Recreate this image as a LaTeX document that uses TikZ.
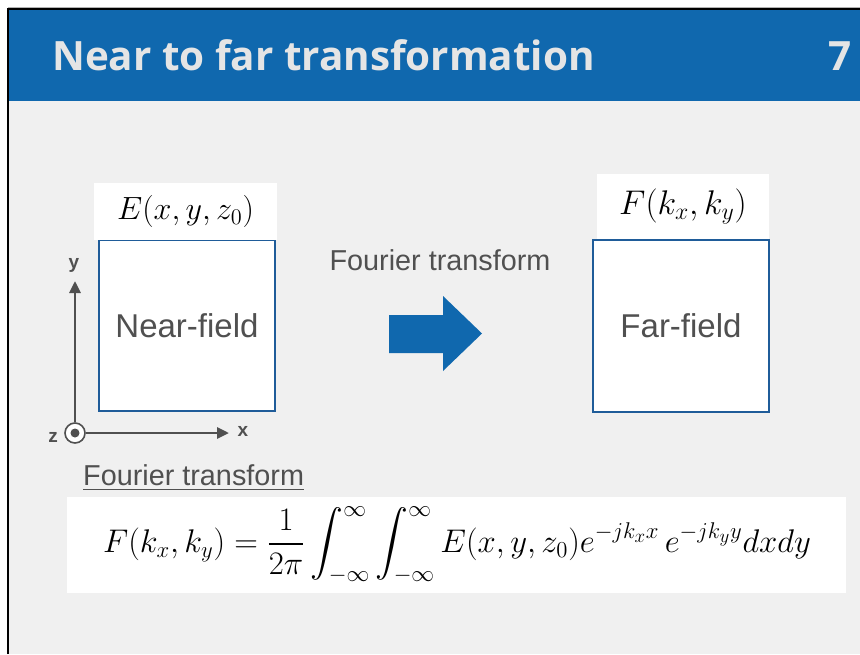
\documentclass[tikz,border=0pt]{standalone}
\usepackage{amsmath}
\usepackage{fontspec}
\setsansfont{Liberation Sans}
\newfontfamily\titlefont{Open Sans}
\usepackage{xcolor}
\usetikzlibrary{arrows.meta,positioning}
\definecolor{hdrblue}{HTML}{1068AE}
\definecolor{boxblue}{HTML}{1F5C99}
\definecolor{slidebg}{HTML}{F0F0F0}
\definecolor{txtgray}{HTML}{505050}
\tikzset{
  fieldbox/.style={rectangle, draw=boxblue, line width=2pt, fill=white,
                   align=center, inner sep=0pt, font=\sffamily\fontsize{33}{38}\selectfont, text=txtgray},
  lblbox/.style={rectangle, fill=white, inner sep=0pt, font=\huge},
  axlbl/.style={font=\sffamily\bfseries\fontsize{19}{22}\selectfont, text=txtgray, inner sep=0pt},
  ax/.style={-{Triangle[length=12pt,width=11pt]}, line width=2.8pt, draw=txtgray}
}
\begin{document}
\begin{tikzpicture}[x=1pt, y=-1pt,
  note/.style={font=\sffamily\fontsize{28.8}{32}\selectfont, text=txtgray, inner sep=0pt}
]
\useasboundingbox (0,0) rectangle (860,654);
\fill[white] (0,0) rectangle (860,654);
\fill[slidebg] (9,10) rectangle (860,654);
\fill[hdrblue] (9,10) rectangle (860,101);
\draw[gray!60, line width=0.8pt] (8,7) -- (860,7);
\draw[black, line width=2.6pt] (8,654) -- (8,9) -- (860,9);
\node[anchor=base west, inner sep=0pt, text=white!90!black,
      font=\titlefont\bfseries\fontsize{40.4}{48}\selectfont] (title) at (52,70) {Near to far transformation};
\node[anchor=base east, inner sep=0pt, text=white!90!black,
      font=\titlefont\bfseries\fontsize{40.4}{48}\selectfont] (pnum) at (852,70) {7};

\node[fieldbox, minimum width=176pt, minimum height=171pt] (near) at (187,325.5) {Near-field};
\node[lblbox, minimum width=183pt, minimum height=57pt] (nearlbl) at (185.5,211.5) {\scalebox{1.55}{$E(x,y,z_0)$}};
\node[fieldbox, minimum width=176pt, minimum height=172pt] (far) at (681,326) {Far-field};
\node[lblbox, minimum width=172pt, minimum height=65pt] (farlbl) at (683,206.5) {\scalebox{1.65}{$F(k_x,k_y)$}};

\node[note] (ftlbl) at (440,260) {Fourier transform};
\fill[hdrblue] (389,315) -- (443,315) -- (443,296) -- (482,333.5) -- (443,371) -- (443,353) -- (389,353) -- cycle;

\node[circle, draw=txtgray, line width=1.6pt, fill=white, minimum size=20pt, inner sep=0pt] (zax) at (75,433) {};
\fill[txtgray] (zax.center) circle (4.5pt);
\coordinate (ytip) at (75,281);
\coordinate (xtip) at (229,433);
\draw[ax] (zax) -- (ytip);
\draw[ax] (zax) -- (xtip);
\node[axlbl] (ylbl) at (74,265) {y};
\node[axlbl] (xlbl) at (243,431) {x};
\node[axlbl] (zlbl) at (53,437) {z};

\node[note, anchor=west] (ftsub) at (83,478) {\underline{Fourier transform}};
\node[rectangle, fill=white, minimum width=779pt, minimum height=96pt, inner sep=0pt] (fbox) at (456.5,545) {};
\node[inner sep=0pt, font=\huge] (eq) at (457,545)
  {\scalebox{1.58}{$F(k_x,k_y) = \dfrac{1}{2\pi}\displaystyle\int_{-\infty}^{\infty}\int_{-\infty}^{\infty} E(x,y,z_0)e^{-jk_xx}\,e^{-jk_yy}dxdy$}};
\end{tikzpicture}
\end{document}
